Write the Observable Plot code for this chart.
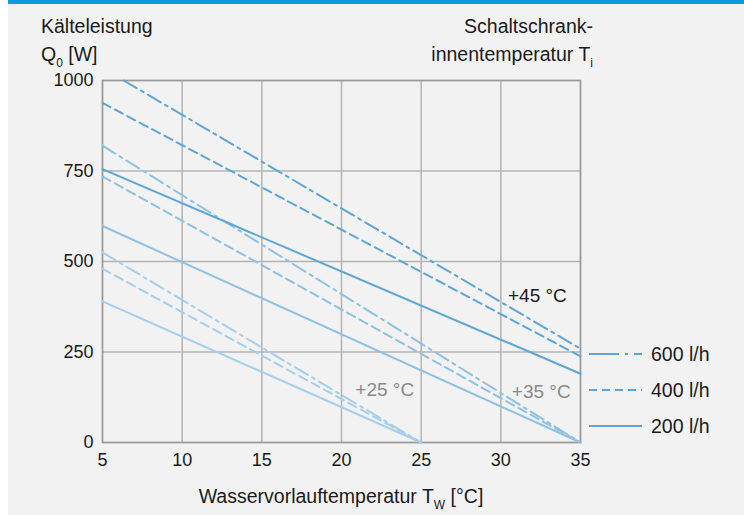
<!DOCTYPE html>
<html>
<head>
<meta charset="utf-8">
<script src="https://cdn.jsdelivr.net/npm/d3@7"></script>
<script src="https://cdn.jsdelivr.net/npm/@observablehq/plot@0.6"></script>
<style>
  html, body { margin: 0; padding: 0; background: #ffffff; }
  #wrap { position: relative; width: 744px; height: 515px; overflow: hidden; }
  #bg { position: absolute; left: 8px; top: 0; width: 736px; height: 515px; background: #f2f2f2; border-top: 4px solid #0a9bdc; box-sizing: border-box; }
  #chart { position: absolute; left: 0; top: 0; }
</style>
</head>
<body>
<div id="wrap"><div id="bg"></div><div id="chart"></div></div>
<script>
// ---- data ----
const temps = ["+25 °C", "+35 °C", "+45 °C"];
const flows = ["600 l/h", "400 l/h", "200 l/h"];
const xTicks = [5, 10, 15, 20, 25, 30, 35];
const yTicks = [0, 250, 500, 750, 1000];

// each curve: temperature, flow, start point and end point (Tw in °C, Q0 in W)
const seriesTemp = ["+45 °C", "+45 °C", "+45 °C", "+35 °C", "+35 °C", "+35 °C", "+25 °C", "+25 °C", "+25 °C"];
const seriesFlow = ["600 l/h", "400 l/h", "200 l/h", "600 l/h", "400 l/h", "200 l/h", "600 l/h", "400 l/h", "200 l/h"];
const startTw = [6.33, 5, 5, 5, 5, 5, 5, 5, 5];
const startQ  = [1000, 938, 755, 820, 735, 598, 525, 480, 390];
const endTw   = [35, 35, 35, 35, 35, 35, 25, 25, 25];
const endQ    = [259, 238, 190, 0, 0, 0, 0, 0, 0];

// temperature labels inside the chart
const labelText = ["+25 °C", "+35 °C", "+45 °C"];
const labelTw   = [20.87, 30.69, 30.45];
const labelQ    = [146, 141, 404];

// ---- styles ----
const FONT = "'Liberation Sans', Arial, sans-serif";
const tempColor = {"+25 °C": "#a6cfee", "+35 °C": "#8fc1e4", "+45 °C": "#5ea6d5"};
const labelColor = {"+25 °C": "#8a8a8a", "+35 °C": "#8a8a8a", "+45 °C": "#1a1a1a"};
const dash = {"600 l/h": "15,5,3,5", "400 l/h": "9,5", "200 l/h": null};
const legendDash = {"600 l/h": "30,6,3,6", "400 l/h": "8,5", "200 l/h": null};

const table = [];
seriesTemp.forEach((t, i) => {
  table.push({id: i, temp: t, flow: seriesFlow[i], tw: startTw[i], q: startQ[i]});
  table.push({id: i, temp: t, flow: seriesFlow[i], tw: endTw[i], q: endQ[i]});
});
const labels = labelText.map((t, i) => ({text: t, tw: labelTw[i], q: labelQ[i]}));

const lineMarks = flows.map(f => Plot.line(table.filter(d => d.flow === f), {
  x: "tw", y: "q", z: "id", stroke: "temp", strokeWidth: 2,
  strokeDasharray: dash[f] || undefined
}));

const plot = Plot.plot({
  width: 744, height: 515,
  marginLeft: 102, marginRight: 164, marginTop: 80, marginBottom: 73,
  style: {background: "transparent", fontFamily: FONT, fontSize: "18px", color: "#1a1a1a"},
  x: {domain: [5, 35]},
  y: {domain: [0, 1000]},
  color: {domain: temps, range: temps.map(t => tempColor[t])},
  marks: [
    Plot.gridX(xTicks, {stroke: "#b3b3b3", strokeOpacity: 1, strokeWidth: 1.5}),
    Plot.gridY(yTicks, {stroke: "#b3b3b3", strokeOpacity: 1, strokeWidth: 1.5}),
    Plot.frame({stroke: "#9a9a9a", strokeWidth: 1.5}),
    Plot.axisX(xTicks, {tickSize: 0, tickPadding: 11, label: null, fontSize: 18, tickFormat: d => String(d)}),
    Plot.axisY(yTicks, {tickSize: 0, tickPadding: 9, label: null, fontSize: 18, tickFormat: d => String(d)}),
    ...lineMarks,
    Plot.text(labels, {x: "tw", y: "q", text: "text", textAnchor: "start", fontSize: 19,
      fill: d => labelColor[d.text]})
  ]
});
document.getElementById("chart").appendChild(plot);

// ---- titles and legend ----
const svg = d3.select(plot);
const g = svg.append("g").attr("font-family", FONT).attr("font-size", 19.5)
  .attr("fill", "#1a1a1a").attr("text-anchor", "start");

function addText(x, y, anchor, parts) {
  const t = g.append("text").attr("x", x).attr("y", y).attr("text-anchor", anchor);
  let back = 0;
  parts.forEach(p => {
    if (typeof p === "string") {
      const s = t.append("tspan").text(p);
      if (back) { s.attr("dy", -back); back = 0; }
    } else {
      t.append("tspan").attr("font-size", 12).attr("dy", 6).text(p.sub);
      back = 6;
    }
  });
  return t;
}
addText(41, 33, "start", ["Kälteleistung"]);
addText(41, 61, "start", ["Q", {sub: "0"}, " [W]"]);
addText(593, 33, "end", ["Schaltschrank-"]);
addText(593, 61, "end", ["innentemperatur T", {sub: "i"}]);
addText(341, 503, "middle", ["Wasservorlauftemperatur T", {sub: "W"}, " [°C]"]);

const legendY = [354, 390, 426];
flows.forEach((f, i) => {
  const line = g.append("line").attr("x1", 589).attr("x2", 642)
    .attr("y1", legendY[i]).attr("y2", legendY[i])
    .attr("stroke", tempColor["+45 °C"]).attr("stroke-width", 2);
  if (legendDash[f]) line.attr("stroke-dasharray", legendDash[f]);
  g.append("text").attr("x", 651).attr("y", legendY[i]).attr("dy", "0.35em")
    .attr("text-anchor", "start").text(f);
});
</script>
</body>
</html>
